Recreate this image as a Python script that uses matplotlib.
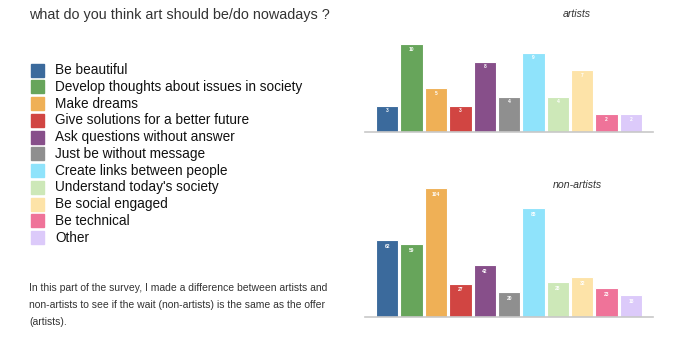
import matplotlib
matplotlib.use("Agg")
import matplotlib.pyplot as plt
from matplotlib.patches import Rectangle

categories = ["Be beautiful", "Develop thoughts about issues in society", "Make dreams",
              "Give solutions for a better future", "Ask questions without answer",
              "Just be without message", "Create links between people",
              "Understand today's society", "Be social engaged", "Be technical", "Other"]
artists = [3, 10, 5, 3, 8, 4, 9, 4, 7, 2, 2]
non_artists = [62, 59, 104, 27, 42, 20, 88, 28, 32, 23, 18]
colors = ["#3b6a9c", "#67a55b", "#efb056", "#d14542", "#874f8a", "#8f8f8f",
          "#8fe3fb", "#cde8b8", "#fde3a8", "#ef7399", "#dccafa"]

W, H = 700, 337
fig = plt.figure(figsize=(7, 3.37), dpi=100)
plt.rcParams['font.family'] = ['Liberation Sans', 'DejaVu Sans']

def fx(x): return x / W
def fy(y): return 1 - y / H

def panel(vals, top_px, base_px, vmax, title, title_y):
    left, right = 365, 653
    ax = fig.add_axes([fx(left), fy(base_px), fx(right - left), (base_px - top_px) / H])
    x = list(range(len(vals)))
    ax.bar(x, vals, width=0.92, color=colors, edgecolor="white", linewidth=0.8)
    for xi, v in zip(x, vals):
        ax.text(xi, v - vmax * 0.03, str(v), ha="center", va="top", fontsize=3.5,
                color="white", fontweight="bold")
    ax.set_xlim(-0.91, 10.9)
    ax.set_ylim(0, vmax)
    for s in ["top", "right", "left"]:
        ax.spines[s].set_visible(False)
    ax.spines["bottom"].set_color("#c8c8c8")
    ax.spines["bottom"].set_linewidth(1.2)
    ax.set_xticks([])
    ax.set_yticks([])
    ax.patch.set_alpha(0)
    fig.text(fx(577), fy(title_y), title, ha="center", va="center", fontsize=7.6,
             style="italic", color="#333333")

panel(artists, 44, 132, 10, "artists", 14)
panel(non_artists, 188, 317, 104, "non-artists", 185)

fig.text(fx(29), fy(15), "what do you think art should be/do nowadays ?", fontsize=10.4,
         ha="left", va="center", color="#333333")

y0 = 70
step = 16.75
for i, (c, col) in enumerate(zip(categories, colors)):
    yc = y0 + i * step
    fig.patches.append(Rectangle((fx(31), fy(yc + 6.5)), 13 / W, 13 / H,
                                 transform=fig.transFigure, color=col, figure=fig))
    fig.text(fx(55), fy(yc), c, fontsize=9.8, ha="left", va="center", color="#111111")

para = ["In this part of the survey, I made a difference between artists and",
        "non-artists to see if the wait (non-artists) is the same as the offer",
        "(artists)."]
for i, line in enumerate(para):
    fig.text(fx(29), fy(288 + i * 17), line, fontsize=7.5, ha="left", va="center",
             color="#333333")

fig.savefig("out.png", dpi=100)
